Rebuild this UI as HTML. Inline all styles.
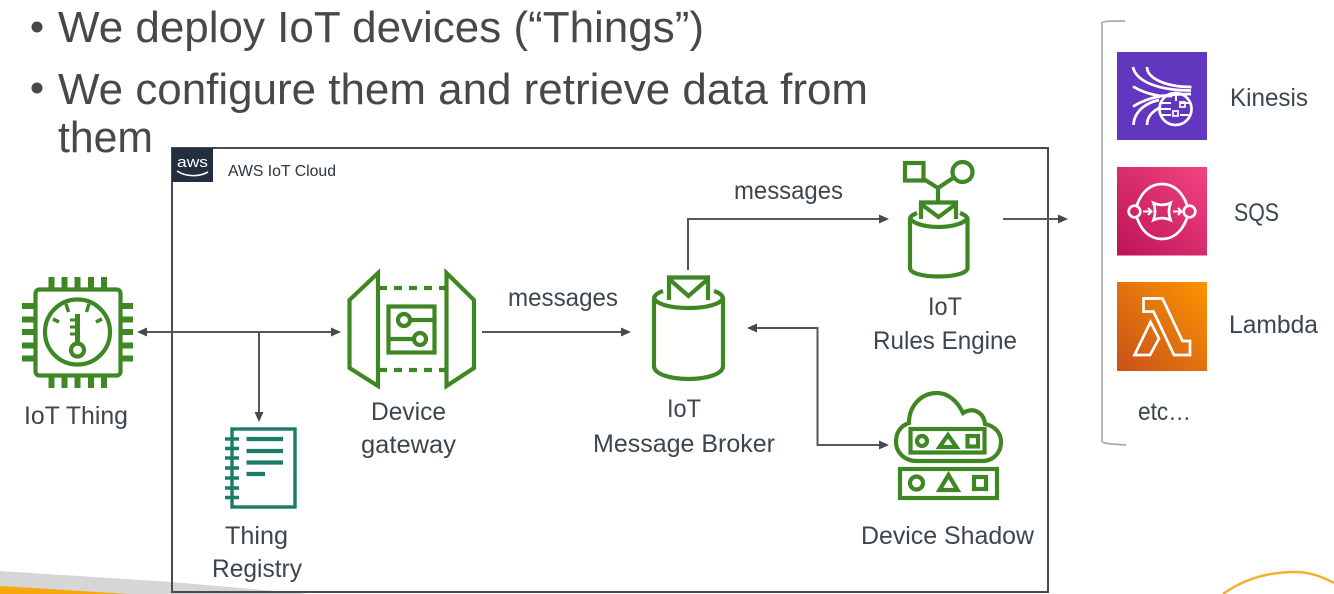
<!DOCTYPE html>
<html>
<head>
<meta charset="utf-8">
<style>
html,body{margin:0;padding:0;background:#fff;width:1334px;height:594px;overflow:hidden}
svg{display:block;filter:blur(0.35px)}
text{font-family:"Liberation Sans",sans-serif}
.t{font-size:44px;fill:#484848}
.l{font-size:25px;fill:#3c4650}
.g{fill:none;stroke:#3f8624;stroke-width:4.2}
.c{fill:none;stroke:#53585c;stroke-width:2}
.a{fill:#444a50}
.w{fill:none;stroke:#fff;stroke-width:2.7}
.n{fill:none;stroke:#1b7c68;stroke-width:3.4}
</style>
</head>
<body>
<svg width="1334" height="594" viewBox="0 0 1334 594" xmlns="http://www.w3.org/2000/svg">
<defs>
<linearGradient id="sq" x1="0" y1="1" x2="1" y2="0"><stop offset="0" stop-color="#bc1356"/><stop offset="1" stop-color="#f34482"/></linearGradient>
<linearGradient id="la" x1="0" y1="1" x2="1" y2="0"><stop offset="0" stop-color="#c8511b"/><stop offset="1" stop-color="#fb9400"/></linearGradient>
</defs>

<!-- slide footer decoration -->
<polygon points="0,571 172,582 310,594 0,594" fill="#d6d6d6"/>
<polygon points="0,586 130,594 0,594" fill="#f7a80d"/>
<path d="M1223 594 C1245 578 1270 572 1295 572 C1310 572 1323 577 1334 583" fill="none" stroke="#f6ae2d" stroke-width="2.400"/>

<!-- title -->
<circle cx="37" cy="27" r="5.500" fill="#484848"/>
<circle cx="37" cy="88" r="5.500" fill="#484848"/>
<text class="t" x="58" y="42" textLength="646" lengthAdjust="spacingAndGlyphs">We deploy IoT devices (“Things”)</text>
<text class="t" x="58" y="104" textLength="810" lengthAdjust="spacingAndGlyphs">We configure them and retrieve data from</text>
<text class="t" x="58" y="152" textLength="95" lengthAdjust="spacingAndGlyphs">them</text>

<!-- cloud box -->
<rect x="172" y="148" width="876" height="444" fill="none" stroke="#474c50" stroke-width="2"/>
<rect x="172" y="148" width="41" height="34" fill="#232f3e"/>
<text x="192.500" y="167" text-anchor="middle" style="font-size:15px;fill:#fff" textLength="31" lengthAdjust="spacingAndGlyphs">aws</text>
<path d="M177 171 C186 177 199 177 208 172" fill="none" stroke="#fff" stroke-width="1.600"/>
<text x="228" y="176" style="font-size:15.500px;fill:#2b3440" textLength="108" lengthAdjust="spacingAndGlyphs">AWS  IoT Cloud</text>

<!-- IoT Thing chip -->
<rect x="35.500" y="289.500" width="85" height="86" rx="4" class="g"/>
<g fill="none" stroke="#3f8624" stroke-width="6">
<path d="M51.500 277V289M64.500 277V289M77.500 277V289M91 277V289M104 277V289"/>
<path d="M51.500 376V388M64.500 376V388M77.500 376V388M91 376V388M104 376V388"/>
<path d="M22 306H35M22 319.500H35M22 332H35M22 345.500H35M22 358.500H35"/>
<path d="M120 306H133M120 319.500H133M120 332H133M120 345.500H133M120 358.500H133"/>
</g>
<circle cx="77.500" cy="332" r="32.500" class="g"/>
<circle cx="77.500" cy="350" r="6.500" class="g"/>
<path d="M77.500 344V314" stroke="#3f8624" stroke-width="5" fill="none"/>
<path d="M70 320H76M70 327H76M70 334H76" stroke="#3f8624" stroke-width="3" fill="none"/>
<path d="M66 304L68.500 312M89 304L86.500 312M53 319L59 322M102 319L96 322" stroke="#3f8624" stroke-width="3.500" fill="none"/>
<text class="l" x="24" y="424" textLength="104" lengthAdjust="spacingAndGlyphs">IoT Thing</text>

<!-- connectors left -->
<path class="c" d="M146 332H332M259 332V414"/>
<polygon class="a" points="137,332 147,327.500 147,336.500"/>
<polygon class="a" points="341,332 331,327.500 331,336.500"/>
<polygon class="a" points="259,422 254.500,412 263.500,412"/>

<!-- Device gateway -->
<path class="g" d="M378 273L349.500 300V368L378 386Z"/>
<path class="g" d="M446.500 273L474 300V368L446.500 386Z"/>
<path class="g" d="M379 288H446M379 370H446" stroke-dasharray="8 7"/>
<rect x="388.500" y="306.500" width="46" height="46" class="g"/>
<circle cx="404" cy="320" r="6" class="g"/>
<circle cx="420" cy="339" r="6" class="g"/>
<path class="g" d="M410 320H434M414 339H389"/>
<text class="l" x="371" y="420" textLength="75" lengthAdjust="spacingAndGlyphs">Device</text>
<text class="l" x="361" y="453" textLength="95" lengthAdjust="spacingAndGlyphs">gateway</text>

<!-- Thing Registry -->
<rect x="232" y="429" width="63" height="78" class="n"/>
<path class="n" d="M225 439H239M225 448.500H239M225 458H239M225 468H239M225 478H239M225 488H239M225 497.500H239"/>
<path d="M246.500 439H283M246.500 451H283M246.500 462.500H283M246.500 474H265" stroke="#1b7c68" stroke-width="4.200" fill="none"/>
<text class="l" x="225" y="544" textLength="63" lengthAdjust="spacingAndGlyphs">Thing</text>
<text class="l" x="212" y="577" textLength="90" lengthAdjust="spacingAndGlyphs">Registry</text>

<!-- messages arrow -->
<path class="c" d="M482 332H622"/>
<polygon class="a" points="631,332 621,327.500 621,336.500"/>
<text class="l" x="508" y="306" textLength="110" lengthAdjust="spacingAndGlyphs">messages</text>

<!-- Message broker -->
<path class="g" d="M663 291C657 293 654 296 654 299V366C654 374 670 379 688.500 379S723 374 723 366V299C723 296 720 293 714 291"/>
<path class="g" d="M654 298C656 304 670 308 688.500 308S721 304 723 298"/>
<path class="g" d="M669 300V277.500H708V300"/>
<path class="g" d="M669 279L688.500 296L708 279"/>
<text class="l" x="667" y="417" textLength="34" lengthAdjust="spacingAndGlyphs">IoT</text>
<text class="l" x="593" y="452" textLength="182" lengthAdjust="spacingAndGlyphs">Message Broker</text>

<!-- Broker to rules -->
<path class="c" d="M688 270V219H880"/>
<polygon class="a" points="889,219 879,214.500 879,223.500"/>
<text class="l" x="734" y="199" textLength="109" lengthAdjust="spacingAndGlyphs">messages</text>

<!-- Rules engine -->
<rect x="905" y="163" width="18.500" height="17.500" class="g"/>
<circle cx="962.500" cy="172" r="10" class="g"/>
<path class="g" d="M922 178L938 188L953 178M938 188V201"/>
<path class="g" d="M917 213C912 215 910 217 910 219V268C910 273 922 276.500 938.500 276.500S967.500 273 967.500 268V219C967.500 217 965 215 960 213"/>
<path class="g" d="M910 218C912 223 924 227 938.500 227S965 223 967.500 218"/>
<path class="g" d="M921 219V202.500H956V219"/>
<path class="g" d="M921 204L938.500 217L956 204"/>
<text class="l" x="928" y="315" textLength="34" lengthAdjust="spacingAndGlyphs">IoT</text>
<text class="l" x="873" y="349" textLength="144" lengthAdjust="spacingAndGlyphs">Rules Engine</text>

<!-- Rules to services -->
<path class="c" d="M1003 219H1060"/>
<polygon class="a" points="1068,219 1058,214.500 1058,223.500"/>

<!-- Broker to shadow -->
<path class="c" d="M756 328H817.500V445H880"/>
<polygon class="a" points="747,328 757,323.500 757,332.500"/>
<polygon class="a" points="889,445 879,440.500 879,449.500"/>

<!-- Device shadow -->
<path class="g" d="M917 461H982C994 461 1001 452 1001 442C1001 433 995 426 985 424C984 414 975 406 963 413C957 400 947 393 937 393C921 393 909 406 909 423C900 426 896 433 896 442C896 452 904 461 917 461Z"/>
<rect x="910.500" y="429" width="74" height="23.500" class="g"/>
<circle cx="922" cy="441" r="5" class="g"/>
<polygon points="948,435 939.500,447 956.500,447" class="g"/>
<rect x="967.500" y="436" width="10.500" height="10.500" class="g"/>
<rect x="900" y="469" width="97" height="29" class="g"/>
<circle cx="916.500" cy="483" r="6.500" class="g"/>
<polygon points="948.500,475 939.500,490 957.500,490" class="g"/>
<rect x="974" y="477" width="12" height="12" class="g"/>
<text class="l" x="861" y="544" textLength="173" lengthAdjust="spacingAndGlyphs">Device Shadow</text>

<!-- bracket -->
<path d="M1125 21C1114 21 1102 21 1102 23V441C1102 444 1114 444 1126 445" fill="none" stroke="#aaa" stroke-width="1.700"/>

<!-- Kinesis -->
<rect x="1117" y="52" width="90" height="88" fill="#6236bf"/>
<path class="w" d="M1147 67C1147 78 1165 87 1191.500 87"/>
<path class="w" d="M1133 67C1136 82 1160 90.500 1191 90.500"/>
<path class="w" d="M1133 86.500C1142 92 1150 94 1160 96M1133 106.500C1142 101 1150 98 1160 96.500M1160 96H1172"/>
<path class="w" d="M1160 96C1170 95 1180 94 1191 94"/>
<path class="w" d="M1133.500 125C1134 112 1145 103 1159 100"/>
<path class="w" d="M1147 125C1147 116 1153 111 1161 107"/>
<circle cx="1175.500" cy="109" r="16" class="w"/>
<path class="w" d="M1161 103H1171M1161 109H1171M1161 115H1171M1180 103H1190M1180 115H1190M1176 96V101" style="stroke-width:2"/>
<rect x="1180" y="102" width="5" height="5" class="w" style="stroke-width:1.700"/>
<rect x="1173" y="111" width="5" height="5" class="w" style="stroke-width:1.700"/>
<text class="l" x="1230" y="106" textLength="78" lengthAdjust="spacingAndGlyphs">Kinesis</text>

<!-- SQS -->
<rect x="1117" y="167" width="90" height="88.500" fill="url(#sq)"/>
<circle cx="1134.500" cy="211.500" r="5.800" class="w"/>
<circle cx="1189.500" cy="211.500" r="5.800" class="w"/>
<path class="w" d="M1137 205C1142 191 1151 184 1162 184S1182 191 1187 205"/>
<path class="w" d="M1137 218C1142 232 1151 239 1162 239S1182 232 1187 218"/>
<path class="w" d="M1153.500 203C1159 205.500 1165 205.500 1170.500 203C1168.500 208.500 1168.500 214.500 1170.500 220C1165 217.500 1159 217.500 1153.500 220C1155.500 214.500 1155.500 208.500 1153.500 203Z"/>
<path class="w" d="M1143 211.500H1151M1148 208L1151.500 211.500L1148 215M1173 211.500H1181M1178 208L1181.500 211.500L1178 215" style="stroke-width:2"/>
<text class="l" x="1234" y="221" textLength="45" lengthAdjust="spacingAndGlyphs">SQS</text>

<!-- Lambda -->
<rect x="1117" y="282" width="90" height="89" fill="url(#la)"/>
<path class="w" d="M1143.500 298.500H1162.500L1182.500 341H1190V355H1174L1153.500 311.500H1143.500Z"/>
<path class="w" d="M1150.500 322L1159 338.500L1150 355H1134.500Z"/>
<text class="l" x="1229" y="333" textLength="89" lengthAdjust="spacingAndGlyphs">Lambda</text>
<text class="l" x="1138" y="420" textLength="53" lengthAdjust="spacingAndGlyphs">etc…</text>
</svg>
</body>
</html>
